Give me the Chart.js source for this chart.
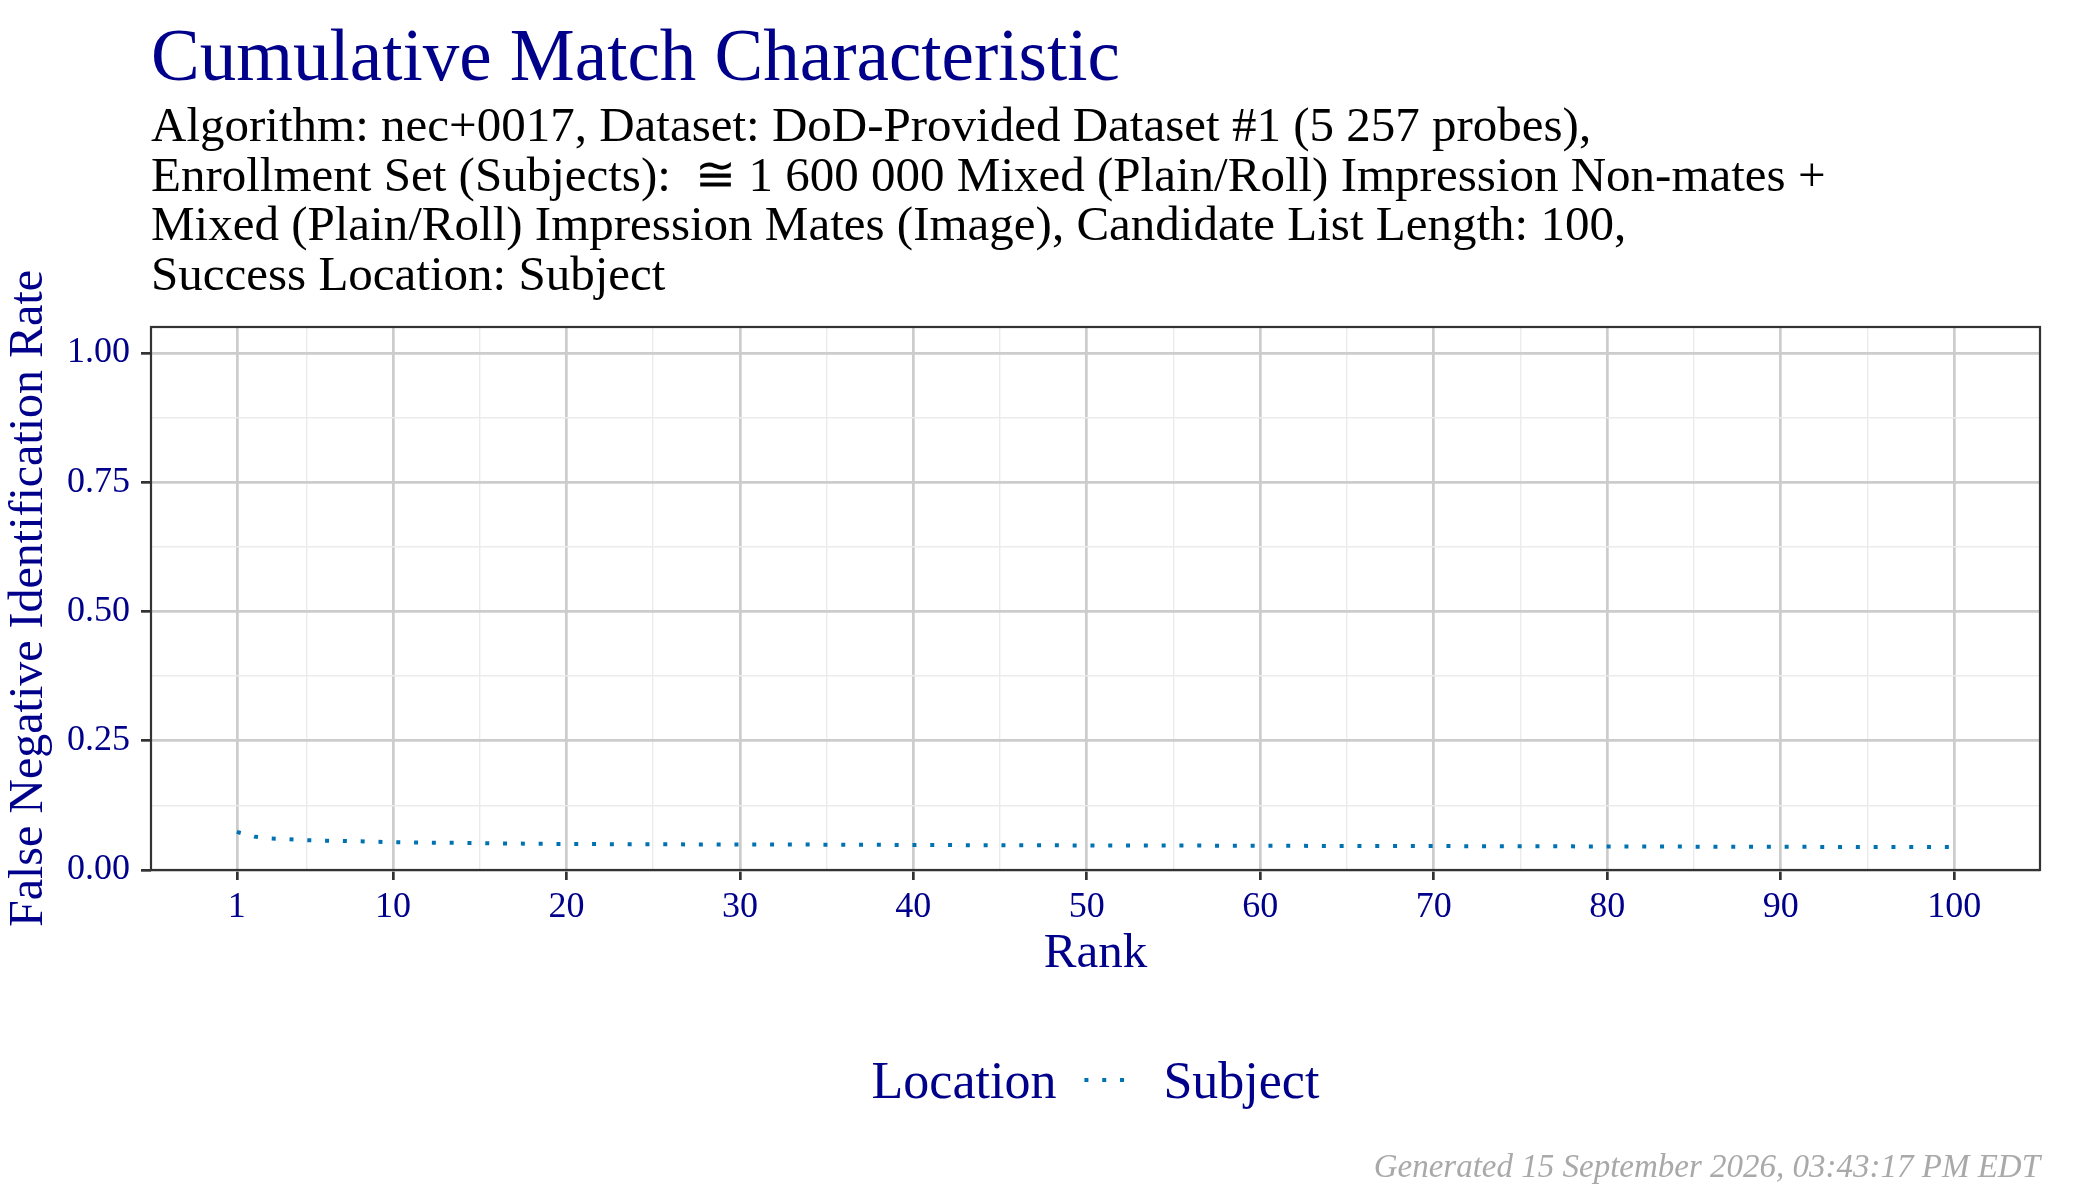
<!DOCTYPE html>
<html>
<head>
<meta charset="utf-8">
<title>Cumulative Match Characteristic</title>
<script src="https://cdn.jsdelivr.net/npm/chart.js@4.4.1/dist/chart.umd.min.js"></script>
<style>
  html, body { margin: 0; padding: 0; background: #ffffff; }
  #wrap { width: 2100px; height: 1200px; }
</style>
</head>
<body>
<div id="wrap"><canvas id="cmcChart" width="2100" height="1200"></canvas></div>
<script>
// Datos
const ranks = [1, 2, 3, 4, 5, 6, 7, 8, 9, 10,
  11, 12, 13, 14, 15, 16, 17, 18, 19, 20,
  21, 22, 23, 24, 25, 26, 27, 28, 29, 30,
  31, 32, 33, 34, 35, 36, 37, 38, 39, 40,
  41, 42, 43, 44, 45, 46, 47, 48, 49, 50,
  51, 52, 53, 54, 55, 56, 57, 58, 59, 60,
  61, 62, 63, 64, 65, 66, 67, 68, 69, 70,
  71, 72, 73, 74, 75, 76, 77, 78, 79, 80,
  81, 82, 83, 84, 85, 86, 87, 88, 89, 90,
  91, 92, 93, 94, 95, 96, 97, 98, 99, 100];

const fnirSubject = [0.0736, 0.0645, 0.0607, 0.0594, 0.0576, 0.0568, 0.0561, 0.0555, 0.0546, 0.0538,
  0.0534, 0.0530, 0.0527, 0.0523, 0.0518, 0.0514, 0.0512, 0.0508, 0.0506, 0.0504,
  0.0502, 0.0501, 0.0499, 0.0499, 0.0497, 0.0497, 0.0495, 0.0495, 0.0495, 0.0493,
  0.0493, 0.0493, 0.0491, 0.0491, 0.0489, 0.0489, 0.0487, 0.0487, 0.0485, 0.0485,
  0.0483, 0.0483, 0.0481, 0.0479, 0.0479, 0.0479, 0.0478, 0.0478, 0.0476, 0.0476,
  0.0476, 0.0474, 0.0474, 0.0474, 0.0472, 0.0472, 0.0472, 0.0470, 0.0470, 0.0468,
  0.0468, 0.0468, 0.0466, 0.0466, 0.0466, 0.0464, 0.0464, 0.0464, 0.0462, 0.0462,
  0.0462, 0.0460, 0.0460, 0.0460, 0.0458, 0.0458, 0.0457, 0.0457, 0.0455, 0.0455,
  0.0455, 0.0453, 0.0453, 0.0453, 0.0451, 0.0451, 0.0451, 0.0449, 0.0449, 0.0449,
  0.0449, 0.0447, 0.0447, 0.0447, 0.0445, 0.0445, 0.0445, 0.0445, 0.0443, 0.0443];

const xBreaks = [1, 10, 20, 30, 40, 50, 60, 70, 80, 90, 100];
const xMinorBreaks = [5, 15, 25, 35, 45, 55, 65, 75, 85, 95];
const yBreaks = [0, 0.25, 0.5, 0.75, 1];
const yMinorBreaks = [0.125, 0.375, 0.625, 0.875];

const chartTitle = 'Cumulative Match Characteristic';
const subtitleLines = [
  'Algorithm: nec+0017, Dataset: DoD-Provided Dataset #1 (5 257 probes),',
  'Enrollment Set (Subjects):  \u2245 1 600 000 Mixed (Plain/Roll) Impression Non-mates +',
  'Mixed (Plain/Roll) Impression Mates (Image), Candidate List Length: 100,',
  'Success Location: Subject'
];
const xTitle = 'Rank';
const yTitle = 'False Negative Identification Rate';
const legendTitle = 'Location';
const seriesLabel = 'Subject';
const captionText = 'Generated 15 September 2026, 03:43:17 PM EDT';

const navy = '#00008B';
const serif = '"Liberation Serif", "DejaVu Serif", serif';

// Limites de los ejes (expansion 5% como en ggplot)
const xMin = -3.95, xMax = 104.95;
const yMin = 0, yMax = 1.05;

// Titulo, subtitulo, leyenda, borde del panel y pie
const decorPlugin = {
  id: 'decor',
  afterDatasetsDraw(chart) {
    const { ctx, chartArea: a } = chart;
    ctx.save();
    ctx.strokeStyle = '#333333';
    ctx.lineWidth = 2.2;
    ctx.strokeRect(a.left, a.top, a.right - a.left, a.bottom - a.top);
    ctx.restore();
  },
  afterDraw(chart) {
    const { ctx, chartArea: a } = chart;
    ctx.save();
    ctx.textAlign = 'left';
    ctx.textBaseline = 'alphabetic';

    ctx.fillStyle = navy;
    ctx.font = '73px ' + serif;
    ctx.fillText(chartTitle, a.left, 80);

    ctx.fillStyle = '#000000';
    ctx.font = '49px ' + serif;
    subtitleLines.forEach((line, i) => ctx.fillText(line, a.left, 141 + i * 49.7));

    // leyenda
    const ds = chart.data.datasets[0];
    ctx.font = '52px ' + serif;
    const wTitle = ctx.measureText(legendTitle).width;
    const wLabel = ctx.measureText(seriesLabel).width;
    const keyW = 44, gap1 = 28, gap2 = 35;
    const total = wTitle + gap1 + keyW + gap2 + wLabel;
    let x = (a.left + a.right) / 2 - total / 2;
    const base = 1098;
    ctx.fillStyle = navy;
    ctx.fillText(legendTitle, x, base);
    x += wTitle + gap1;
    ctx.strokeStyle = ds.borderColor;
    ctx.lineWidth = ds.borderWidth;
    ctx.lineCap = 'butt';
    ctx.setLineDash(ds.borderDash);
    ctx.beginPath();
    ctx.moveTo(x, 1080);
    ctx.lineTo(x + keyW, 1080);
    ctx.stroke();
    ctx.setLineDash([]);
    x += keyW + gap2;
    ctx.fillText(seriesLabel, x, base);

    // pie
    ctx.textAlign = 'right';
    ctx.fillStyle = '#A9A9A9';
    ctx.font = 'italic 33px ' + serif;
    ctx.fillText(captionText, a.right, 1177);
    ctx.restore();
  }
};

const ctx = document.getElementById('cmcChart').getContext('2d');
const cmcChart = new Chart(ctx, {
  type: 'line',
  data: {
    datasets: [{
      label: seriesLabel,
      data: ranks.map((r, i) => ({ x: r, y: fnirSubject[i] })),
      borderColor: '#0072B2',
      borderWidth: 4,
      borderDash: [4, 13.8],
      borderCapStyle: 'butt',
      fill: false,
      pointRadius: 0,
      tension: 0
    }]
  },
  options: {
    responsive: false,
    animation: false,
    devicePixelRatio: 1,
    layout: {
      padding: { top: 327, right: 60, bottom: 210, left: 0 }
    },
    plugins: {
      legend: { display: false },
      title: { display: false },
      tooltip: { enabled: false }
    },
    scales: {
      x: {
        type: 'linear',
        position: 'bottom',
        min: xMin,
        max: xMax,
        afterBuildTicks: (s) => { s.ticks = xBreaks.map(v => ({ value: v })); },
        afterFit: (s) => { s.height = 120; },
        grid: { color: '#cccccc', lineWidth: 2.7, tickColor: '#333333', tickWidth: 2.7, tickLength: 10 },
        border: { display: false },
        ticks: {
          color: navy,
          font: { family: serif, size: 36 },
          padding: 6,
          maxRotation: 0,
          autoSkip: false,
          callback: (v) => String(v)
        },
        title: {
          display: true,
          text: xTitle,
          color: navy,
          font: { family: serif, size: 49 },
          padding: { top: 0, bottom: 6 }
        }
      },
      xMinor: {
        type: 'linear',
        position: 'bottom',
        min: xMin,
        max: xMax,
        afterBuildTicks: (s) => { s.ticks = xMinorBreaks.map(v => ({ value: v })); },
        afterFit: (s) => { s.height = 0; },
        grid: { color: '#ebebeb', lineWidth: 1.4, drawTicks: false },
        border: { display: false },
        ticks: { display: false }
      },
      y: {
        type: 'linear',
        position: 'left',
        min: yMin,
        max: yMax,
        afterBuildTicks: (s) => { s.ticks = yBreaks.map(v => ({ value: v })); },
        afterFit: (s) => { s.width = 151; },
        grid: { color: '#cccccc', lineWidth: 2.7, tickColor: '#333333', tickWidth: 2.7, tickLength: 10 },
        border: { display: false },
        ticks: {
          color: navy,
          font: { family: serif, size: 36 },
          padding: 11,
          autoSkip: false,
          callback: (v) => v.toFixed(2)
        },
        title: {
          display: true,
          text: yTitle,
          color: navy,
          font: { family: serif, size: 48 },
          padding: { top: 1, bottom: 0 }
        }
      },
      yMinor: {
        type: 'linear',
        position: 'left',
        min: yMin,
        max: yMax,
        afterBuildTicks: (s) => { s.ticks = yMinorBreaks.map(v => ({ value: v })); },
        afterFit: (s) => { s.width = 0; },
        grid: { color: '#ebebeb', lineWidth: 1.4, drawTicks: false },
        border: { display: false },
        ticks: { display: false }
      }
    }
  },
  plugins: [decorPlugin]
});
</script>
</body>
</html>
